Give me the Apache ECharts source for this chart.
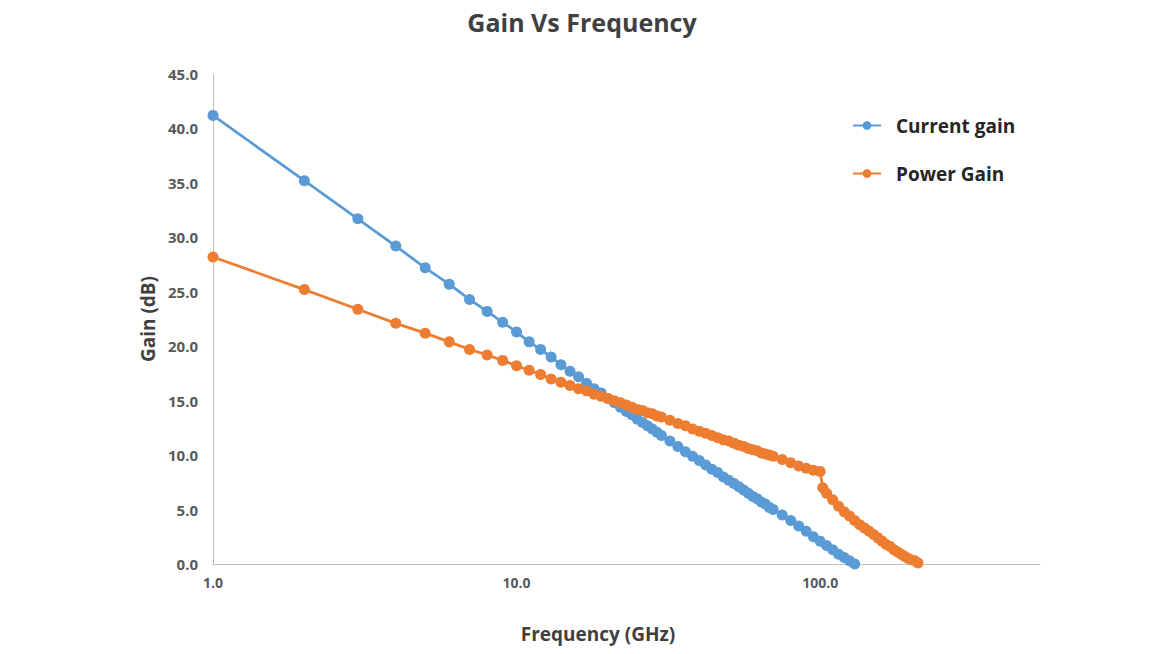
<!DOCTYPE html>
<html>
<head>
<meta charset="utf-8">
<script src="https://cdn.jsdelivr.net/npm/echarts@6/dist/echarts.min.js"></script>
<style>
html,body{margin:0;padding:0;background:#fff;}
#chart{width:1164px;height:654px;}
</style>
</head>
<body>
<div id="chart"></div>
<script>
const currentFreq = [1,2,3,4,5,6,7,8,9,10,11,12,13,14,15,16,17,18,19,20,21,22,23,24,25,26,27,28,29,30,
  32,34,36,38,40,42,44,46,48,50,52,54,56,58,60,62,64,66,68,70,
  75,80,85,90,95,100,105,110,115,120,125,130];
const currentGain = [41.2,35.2,31.7,29.2,27.2,25.7,24.3,23.2,22.2,21.3,20.4,19.7,19.0,18.3,17.7,17.2,16.6,16.1,15.7,15.2,14.8,14.4,14.0,13.7,13.3,13.0,12.7,12.4,12.1,11.8,
  11.3,10.8,10.3,9.9,9.5,9.1,8.7,8.4,8.0,7.7,7.4,7.1,6.8,6.5,6.2,6.0,5.7,5.5,5.2,5.0,
  4.5,4.0,3.5,3.0,2.5,2.1,1.7,1.3,0.9,0.6,0.3,0.0];
const powerFreq = [1,2,3,4,5,6,7,8,9,10,11,12,13,14,15,16,17,18,19,20,21,22,23,24,25,26,27,28,29,30,
  32,34,36,38,40,42,44,46,48,50,52,54,56,58,60,62,64,66,68,70,
  75,80,85,90,95,100,
  102,105,110,115,120,125,130,135,140,145,150,155,160,165,170,175,180,185,190,195,200,205,210];
const powerGain = [28.2,25.2,23.4,22.1,21.2,20.4,19.7,19.2,18.7,18.2,17.8,17.4,17.0,16.7,16.4,16.1,15.9,15.6,15.4,15.2,15.0,14.8,14.6,14.4,14.2,14.1,13.9,13.8,13.6,13.5,
  13.2,12.9,12.7,12.4,12.2,12.0,11.8,11.6,11.4,11.3,11.1,10.9,10.8,10.6,10.5,10.4,10.2,10.1,10.0,9.9,
  9.6,9.3,9.0,8.8,8.6,8.5,
  7.0,6.5,5.9,5.3,4.8,4.4,4.0,3.6,3.3,3.0,2.7,2.4,2.1,1.8,1.6,1.3,1.1,0.9,0.7,0.5,0.4,0.3,0.1];
const seriesNames = ['Current gain', 'Power Gain'];

const FONT = '"Open Sans", "Noto Sans", sans-serif';
const pair = (xs, ys) => xs.map((x, i) => [x, ys[i]]);

const chart = echarts.init(document.getElementById('chart'), null, {renderer: 'svg'});
chart.setOption({
  animation: false,
  backgroundColor: '#ffffff',
  title: {
    text: 'Gain Vs Frequency',
    left: 'center',
    top: 4,
    textStyle: {fontFamily: FONT, fontSize: 25, fontWeight: 'bold', color: '#404040'}
  },
  legend: {
    orient: 'vertical',
    left: 847,
    top: 111,
    itemWidth: 28,
    itemHeight: 11,
    itemGap: 29,
    textStyle: {fontFamily: FONT, fontSize: 19, fontWeight: 'bold', color: '#262626', padding: [0, 0, 0, 10]},
    data: seriesNames
  },
  grid: {left: 213, right: 124, top: 74, bottom: 90, containLabel: false},
  xAxis: {
    type: 'log',
    logBase: 10,
    min: 1,
    max: 530,
    name: 'Frequency (GHz)',
    nameLocation: 'middle',
    nameGap: 60,
    nameTextStyle: {fontFamily: FONT, fontSize: 19, fontWeight: 'bold', color: '#404040', padding: [0, 57, 0, 0]},
    axisLine: {show: true, lineStyle: {color: '#bfbfbf', width: 1}},
    axisTick: {show: false},
    splitLine: {show: false},
    minorSplitLine: {show: false},
    axisLabel: {
      fontFamily: FONT, fontSize: 14, fontWeight: 'bold', color: '#595959', margin: 11,
      showMaxLabel: false,
      formatter: v => Number(v).toFixed(1)
    }
  },
  yAxis: {
    type: 'value',
    min: 0,
    max: 45,
    interval: 5,
    name: 'Gain (dB)',
    nameLocation: 'middle',
    nameGap: 55,
    nameTextStyle: {fontFamily: FONT, fontSize: 19, fontWeight: 'bold', color: '#404040'},
    axisLine: {show: true, lineStyle: {color: '#bfbfbf', width: 1}},
    axisTick: {show: false},
    splitLine: {show: false},
    axisLabel: {
      fontFamily: FONT, fontSize: 15, fontWeight: 'bold', color: '#595959', margin: 15,
      formatter: v => Number(v).toFixed(1)
    }
  },
  series: [
    {
      name: seriesNames[0],
      type: 'line',
      data: pair(currentFreq, currentGain),
      symbol: 'circle',
      symbolSize: 11,
      showAllSymbol: true,
      lineStyle: {color: '#5B9BD5', width: 2.75},
      itemStyle: {color: '#5B9BD5'},
      z: 3
    },
    {
      name: seriesNames[1],
      type: 'line',
      data: pair(powerFreq, powerGain),
      symbol: 'circle',
      symbolSize: 11,
      showAllSymbol: true,
      lineStyle: {color: '#ED7D31', width: 2.75},
      itemStyle: {color: '#ED7D31'},
      z: 4
    }
  ]
});
</script>
</body>
</html>
